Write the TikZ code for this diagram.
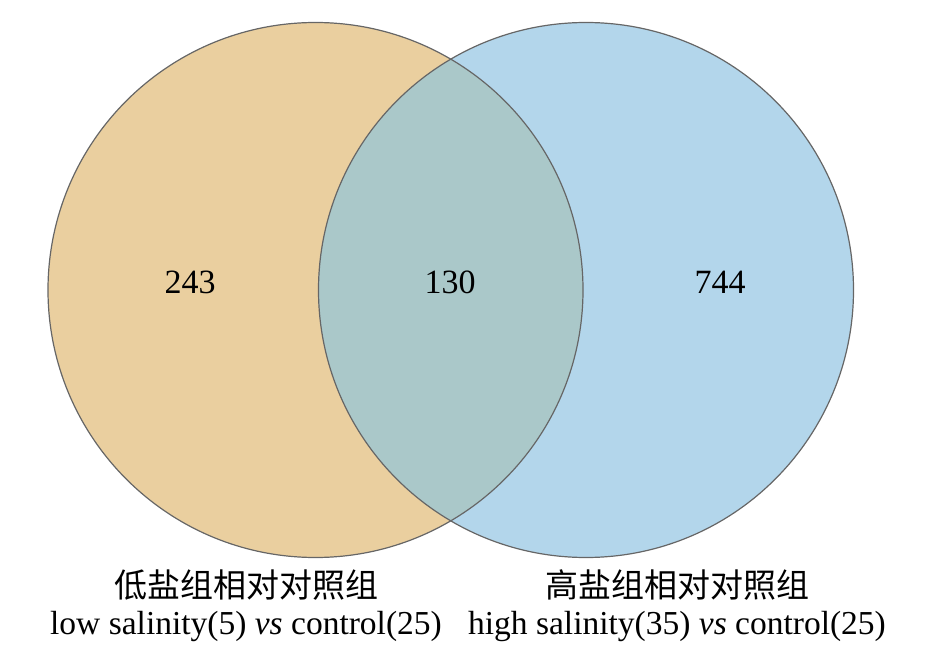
\documentclass[tikz,border=0pt]{standalone}
\usepackage{fontspec}
\setmainfont{Liberation Serif}
\newfontfamily\cjk{Noto Sans CJK SC}
\usetikzlibrary{positioning}
\definecolor{lowtan}{HTML}{EACF9F}
\definecolor{highblue}{HTML}{B3D6EB}
\definecolor{overlapgreen}{HTML}{AAC8C9}
\definecolor{rimgray}{HTML}{666666}
\tikzset{
  num/.style={font=\fontsize{34}{40}\selectfont, anchor=base},
  cnlabel/.style={font=\cjk\fontsize{33}{40}\selectfont},
  enlabel/.style={font=\fontsize{33.5}{40}\selectfont, anchor=base}
}

\begin{document}
\begin{tikzpicture}[x=1pt,y=-1pt]
\useasboundingbox (0,0) rectangle (932,663);
\coordinate (L) at (315.5,290);
\coordinate (R) at (586,290);
\fill [lowtan] (L) circle (267.5pt);
\fill [highblue] (R) circle (267.5pt);
\begin{scope}
  \clip (L) circle (267.5pt);
  \fill [overlapgreen] (R) circle (267.5pt);
\end{scope}
\foreach \c in {L,R}
	\draw [line width=1.2pt, rimgray] (\c) circle (267.5pt);
\node[num] (n243) at (190,293) {243};
\node[num] (n130) at (450,293) {130};
\node[num] (n744) at (720,293) {744};
\node[cnlabel] (lowcn) at (246,585) {低盐组相对对照组};
\node[enlabel] (lowen) at (246,634) {low salinity(5) \textit{vs} control(25)};
\node[cnlabel] (highcn) at (677,585) {高盐组相对对照组};
\node[enlabel] (highen) at (677,634) {high salinity(35) \textit{vs} control(25)};
\end{tikzpicture}
\end{document}
